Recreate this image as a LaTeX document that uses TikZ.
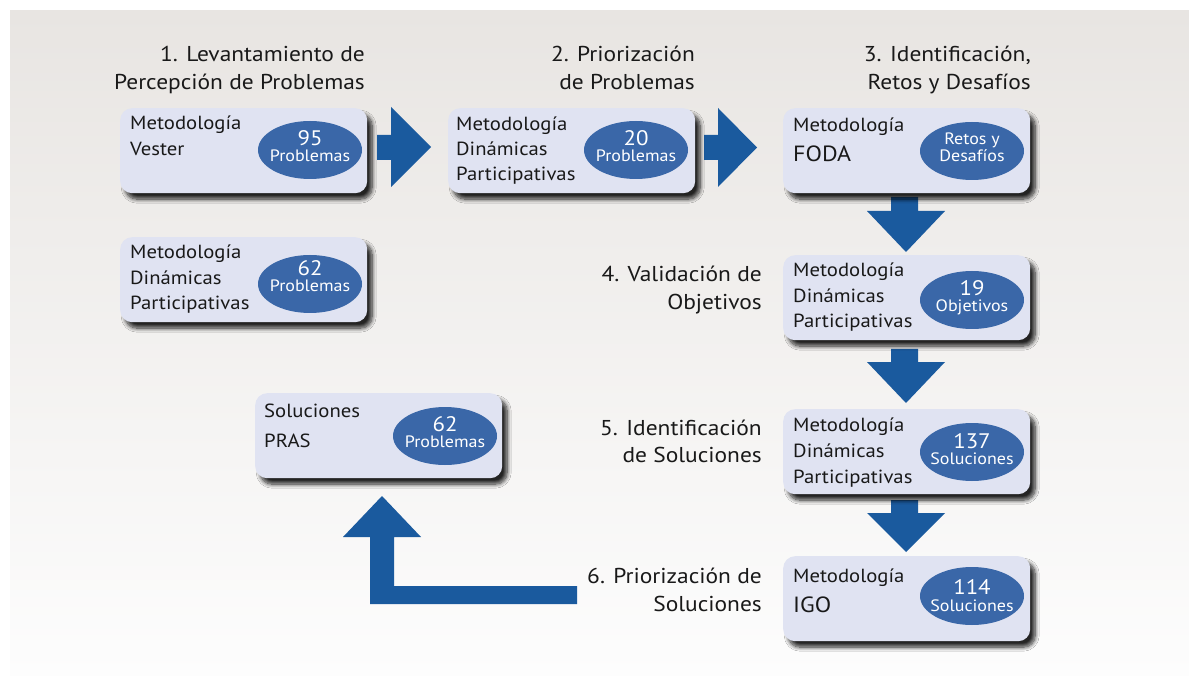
\documentclass[tikz,border=0pt]{standalone}
\usepackage{fontspec}
\setmainfont{PT Sans}[FakeStretch=1.09]
\usetikzlibrary{shadows.blur,shapes.geometric}
\definecolor{arrowblue}{RGB}{26,90,158}
\definecolor{ellblue}{RGB}{58,103,168}
\definecolor{boxfill}{RGB}{224,227,242}
\definecolor{bgtop}{RGB}{232,229,226}
\definecolor{bgbot}{RGB}{253,253,253}
\definecolor{ink}{RGB}{25,25,25}
\begin{document}
\begin{tikzpicture}[x=1pt,y=-1pt,
  box/.style={fill=boxfill, rounded corners=12pt, minimum width=247pt, minimum height=85pt,
    anchor=north west, inner sep=0pt,
    blur shadow={shadow xshift=5pt, shadow yshift=-6pt, shadow blur radius=4pt, shadow blur steps=10, shadow opacity=85}},
  ell/.style={ellipse, fill=ellblue, minimum width=104pt, minimum height=58pt, inner sep=0pt},
  btxt/.style={anchor=base west, inner sep=0pt, text=ink, font=\fontsize{19}{22}\selectfont},
  bbig/.style={anchor=base west, inner sep=0pt, text=ink, font=\fontsize{22}{26}\selectfont},
  htxt/.style={anchor=base east, inner sep=0pt, text=ink, font=\fontsize{21.5}{26}\selectfont},
  num/.style={anchor=base, inner sep=0pt, text=white, font=\fontsize{21}{24}\selectfont},
  lab/.style={anchor=base, inner sep=0pt, text=white, font=\fontsize{16.5}{18}\selectfont},
  barrow/.style={fill=arrowblue}]
\useasboundingbox (0,0) rectangle (1189,676);
\fill[white] (0,0) rectangle (1189,676);
\shade[top color=bgtop, bottom color=bgbot] (10,11) rectangle (1189,676);

% headings
\node[htxt] (h1a) at (365,62) {1. Levantamiento de};
\node[htxt] (h1b) at (365,90) {Percepción de Problemas};
\node[htxt] (h2a) at (695,62) {2. Priorización};
\node[htxt] (h2b) at (695,90) {de Problemas};
\node[htxt] (h3a) at (1031,62) {3. Identificación,};
\node[htxt] (h3b) at (1031,90) {Retos y Desafíos};
\node[htxt] (h4a) at (762,282) {4. Validación de};
\node[htxt] (h4b) at (762,310) {Objetivos};
\node[htxt] (h5a) at (762,435) {5. Identificación};
\node[htxt] (h5b) at (762,462) {de Soluciones};
\node[htxt] (h6a) at (762,583) {6. Priorización de};
\node[htxt] (h6b) at (762,611) {Soluciones};

% arrows
\fill[barrow] (377,135) -- (391,135) -- (391,107) -- (431,147) -- (391,187) -- (391,160) -- (377,160) -- cycle;
\fill[barrow] (704,135) -- (718,135) -- (718,108) -- (757,147.5) -- (718,187) -- (718,160) -- (704,160) -- cycle;
\fill[barrow] (891,197) -- (918,197) -- (918,211) -- (945,211) -- (906,252) -- (867,211) -- (891,211) -- cycle;
\fill[barrow] (891,349) -- (918,349) -- (918,362) -- (945,362) -- (906,403) -- (867,362) -- (891,362) -- cycle;
\fill[barrow] (891,500) -- (918,500) -- (918,513) -- (945,513) -- (906,552) -- (867,513) -- (891,513) -- cycle;
\fill[barrow] (577,586) -- (577,604) -- (370,604) -- (370,537) -- (343,537) -- (382,496) -- (421,537) -- (394,537) -- (394,586) -- cycle;

% boxes
\node[box] (b1) at (120,108) {};
\node[box] (b2) at (448,108) {};
\node[box] (b3) at (783,108) {};
\node[box] (b62) at (120,237) {};
\node[box] (b4) at (783,255) {};
\node[box] (b5) at (783,409) {};
\node[box] (b6) at (783,556) {};
\node[box] (bp) at (255,393) {};

% box texts
\node[btxt] (t1a) at (130,130) {Metodología};
\node[btxt] (t1b) at (130,156) {Vester};
\node[btxt] (t2a) at (456,131) {Metodología};
\node[btxt] (t2b) at (456,156) {Dinámicas};
\node[btxt] (t2c) at (456,181) {Participativas};
\node[btxt] (t3a) at (793,132) {Metodología};
\node[bbig] (t3b) at (793,162) {FODA};
\node[btxt] (t62a) at (130,259) {Metodología};
\node[btxt] (t62b) at (130,285) {Dinámicas};
\node[btxt] (t62c) at (130,310) {Participativas};
\node[btxt] (t4a) at (793,277) {Metodología};
\node[btxt] (t4b) at (793,303) {Dinámicas};
\node[btxt] (t4c) at (793,328) {Participativas};
\node[btxt] (t5a) at (793,431) {Metodología};
\node[btxt] (t5b) at (793,457) {Dinámicas};
\node[btxt] (t5c) at (793,483) {Participativas};
\node[btxt] (t6a) at (793,582) {Metodología};
\node[bbig] (t6b) at (793,612) {IGO};
\node[btxt] (tpa) at (264,417) {Soluciones};
\node[btxt] (tpb) at (264,447) {PRAS};

% ellipses
\node[ell] (e1) at (310,150) {};
\node[num] (n1) at (310,146) {95};
\node[lab] (l1) at (310,162) {Problemas};
\node[ell] (e2) at (636,150) {};
\node[num] (n2) at (636,146) {20};
\node[lab] (l2) at (636,162) {Problemas};
\node[ell] (e3) at (972,151) {};
\node[lab] (n3) at (972,145) {Retos y};
\node[lab] (l3) at (972,162) {Desafíos};
\node[ell] (e62) at (310,284) {};
\node[num] (n62) at (310,276) {62};
\node[lab] (l62) at (310,292) {Problemas};
\node[ell] (e4) at (972,300) {};
\node[num] (n4) at (972,296) {19};
\node[lab] (l4) at (972,312) {Objetivos};
\node[ell] (e5) at (972,452) {};
\node[num] (n5) at (972,448) {137};
\node[lab] (l5) at (972,464) {Soluciones};
\node[ell] (e6) at (972,596) {};
\node[num] (n6) at (972,594) {114};
\node[lab] (l6) at (972,611) {Soluciones};
\node[ell] (ep) at (445,436) {};
\node[num] (np) at (445,431) {62};
\node[lab] (lp) at (445,447) {Problemas};
\end{tikzpicture}
\end{document}
